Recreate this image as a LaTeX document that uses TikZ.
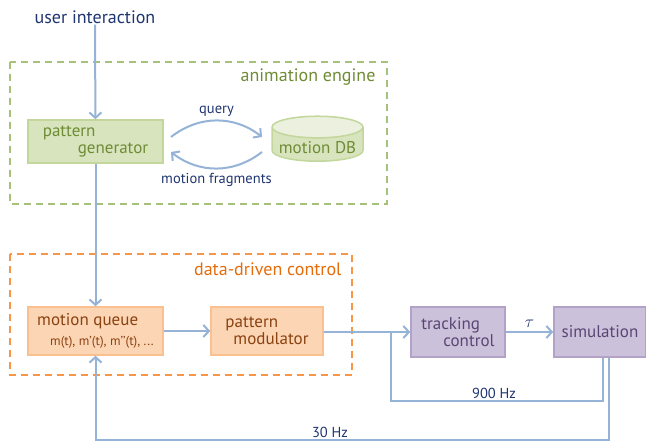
\documentclass[tikz,border=0pt]{standalone}
\usepackage{fontspec}
\setmainfont{PT Sans}
\usetikzlibrary{arrows.meta,shapes.geometric}
\definecolor{flow}{HTML}{95B3D7}
\definecolor{ink}{HTML}{1F3570}
\definecolor{grfill}{HTML}{D7E4BD}
\definecolor{grtop}{HTML}{EBF1DE}
\definecolor{grline}{HTML}{C3D69B}
\definecolor{grdash}{HTML}{A6C27A}
\definecolor{grtext}{HTML}{6F8C35}
\definecolor{orfill}{HTML}{FCD5B5}
\definecolor{orline}{HTML}{FAC090}
\definecolor{ordash}{HTML}{F79646}
\definecolor{ortext}{HTML}{E46C0A}
\definecolor{orink}{HTML}{8A4210}
\definecolor{pufill}{HTML}{CCC1DA}
\definecolor{puline}{HTML}{B3A2C7}
\definecolor{puink}{HTML}{5A4575}
\tikzset{
  flowline/.style={draw=flow, line width=2pt},
  flowarrow/.style={flowline, -{Straight Barb[length=5.5pt,width=12pt,line width=2pt]}},
  blockbase/.style={rectangle, line width=1.5pt, inner sep=0pt, align=left, font=\fontsize{17}{17}\selectfont},
  greenblock/.style={blockbase, fill=grfill, draw=grline, text=grtext},
  orangeblock/.style={blockbase, fill=orfill, draw=orline, text=orink},
  purpleblock/.style={blockbase, fill=pufill, draw=puline, text=puink},
  groupframe/.style={line width=2pt, dash pattern=on 7pt off 5pt},
  inktext/.style={text=ink, inner sep=1pt},
  smalltext/.style={inktext, font=\fontsize{14.5}{16}\selectfont},
}
\begin{document}
\begin{tikzpicture}[x=1pt, y=-1pt]
\useasboundingbox (0,0) rectangle (646,443);

% group frames
\draw[groupframe, draw=grdash] (10,62) rectangle (387,204);
\node[anchor=east, text=grtext, font=\fontsize{18}{18}\selectfont] (aelabel) at (379,77) {animation engine};
\draw[groupframe, draw=ordash] (10,254) rectangle (352,375);
\node[anchor=east, text=ortext, font=\fontsize{18}{18}\selectfont] (dclabel) at (345,269) {data-driven control};

% blocks
\node[inktext, font=\fontsize{18}{18}\selectfont] (user) at (95,17) {user interaction};
\node[greenblock, minimum width=135pt, minimum height=43pt] (pg) at (95.5,141.5)
  {pattern\\\hspace*{35pt}generator};
\node[cylinder, shape border rotate=90, aspect=0.28, minimum width=91pt, minimum height=45pt,
      cylinder uses custom fill, cylinder body fill=grfill, cylinder end fill=grtop,
      draw=grline, line width=1.5pt, text=grtext, font=\fontsize{17}{17}\selectfont,
      inner sep=0pt] (db) at (317.5,144.5) {\raisebox{-9pt}[0pt][0pt]{motion DB}};
\node[orangeblock, minimum width=135pt, minimum height=48pt] (mq) at (95.5,331)
  {motion queue\\[3pt]\hspace*{13pt}{\fontsize{13}{14}\selectfont m(t), m’(t), m’’(t), ...}};
\node[orangeblock, minimum width=112pt, minimum height=48pt] (pm) at (267,331)
  {pattern\\\hspace*{8pt}modulator};
\node[purpleblock, minimum width=94pt, minimum height=50pt] (tc) at (458,332)
  {tracking\\\hspace*{22pt}control};
\node[purpleblock, minimum width=92pt, minimum height=50pt] (sim) at (600,332)
  {simulation};

% connector end points
\coordinate (qs) at (171,137);
\coordinate (qe) at (262,137);
\coordinate (fs) at (262,152);
\coordinate (fe) at (171,152);
\coordinate (junc) at (391,332);
\coordinate (c900) at (603,401);
\coordinate (c30) at (609,440);

% connectors
\draw[flowarrow] (user) -- (pg);
\draw[flowarrow] (pg) -- (mq);
\draw[flowarrow] (qs) to[bend left=38] node[smalltext, above=2pt] (qlabel) {query} (qe);
\draw[flowarrow] (fs) to[bend left=38] node[smalltext, below=3pt] (flabel) {motion fragments} (fe);
\draw[flowarrow] (mq) -- (pm);
\draw[flowarrow] (pm.east |- junc) -- (tc.west |- junc);
\draw[flowarrow] (tc) -- node[inktext, above=2pt, font=\fontsize{16}{16}\selectfont] (tau) {$\tau$} (sim);
\draw[flowline] (c900 |- sim.south) -- (c900) -| (junc);
\node[smalltext, anchor=south] (f900) at (494,400) {900 Hz};
\draw[flowarrow] (c30 |- sim.south) -- (c30) -| (mq.south);
\node[smalltext, anchor=south] (f30) at (330,439) {30 Hz};
\end{tikzpicture}
\end{document}
